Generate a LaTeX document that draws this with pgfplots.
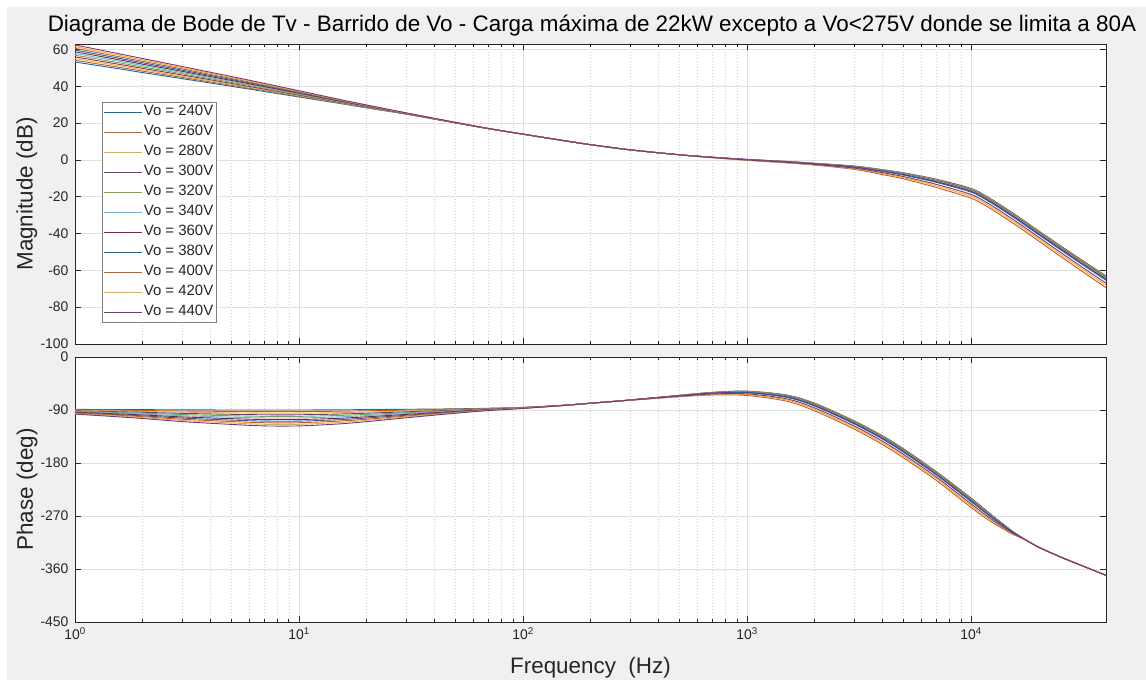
\documentclass[border=0pt]{standalone}
\usepackage{fontspec}
\setmainfont{Liberation Sans}
\usepackage{pgfplots}
\usepackage{pgfplotstable}
\pgfplotsset{compat=1.18}

\definecolor{figbg}{rgb}{0.941,0.941,0.941}
\definecolor{axcol}{rgb}{0.149,0.149,0.149}
\definecolor{legframe}{rgb}{0.5,0.5,0.5}
\definecolor{pure}{rgb}{1,1,1}
\definecolor{majgrid}{rgb}{0.88,0.88,0.88}
\definecolor{mingrid}{rgb}{0.8,0.8,0.8}
\definecolor{c1}{rgb}{0,0.447,0.741}
\definecolor{c2}{rgb}{0.850,0.325,0.098}
\definecolor{c3}{rgb}{0.929,0.694,0.125}
\definecolor{c4}{rgb}{0.494,0.184,0.556}
\definecolor{c5}{rgb}{0.466,0.674,0.188}
\definecolor{c6}{rgb}{0.301,0.745,0.933}
\definecolor{c7}{rgb}{0.635,0.078,0.184}

% f: frequency (Hz), m: magnitude (dB), p: phase (deg)
\pgfplotstableread{
f m p
1 53.2 -89
1.5 49.9 -89.2
2 47.5 -89.4
3 44.2 -89.7
5 40.0 -90
7 37.2 -90
10 34.2 -90
15 30.8 -89.7
20 28.3 -89.3
30 24.9 -88.8
50 20.1 -88
70 17.0 -87
100 14.0 -85.5
150 10.6 -82
200 8.3 -78.5
300 5.5 -73
500 2.8 -65
700 1.5 -60
1000 0.3 -58
1500 -0.8 -64.5
2000 -1.8 -78.3
3000 -3.3 -108.2
4000 -5.2 -133.2
5000 -7.0 -156.0
7000 -10.5 -194.7
10000 -15.5 -239.6
12000 -20.5 -264.2
15000 -28.0 -293.3
17000 -32.5 -307.4
20000 -38.5 -322.9
25000 -46.5 -339.4
30000 -53.0 -351.7
40000 -63.0 -370.7
}\tblA

\pgfplotstableread{
f m p
1 54.13 -89.8
1.5 50.73 -90.4
2 48.26 -90.9
3 44.86 -91.7
5 40.53 -92.45
7 37.64 -92.7
10 34.54 -92.7
15 31.02 -92.1
20 28.46 -91.35
30 24.97 -90.25
50 20.13 -88.75
70 17.01 -87.4
100 14.0 -85.68
150 10.6 -82.06
200 8.3 -78.5
300 5.5 -73.03
500 2.8 -65.13
700 1.49 -60.23
1000 0.28 -58.37
1500 -0.84 -65.03
2000 -1.85 -78.95
3000 -3.39 -108.9
4000 -5.34 -133.95
5000 -7.17 -156.78
7000 -10.73 -195.45
10000 -15.77 -240.4
12000 -20.77 -264.85
15000 -28.28 -293.6
17000 -32.78 -307.45
20000 -38.78 -322.9
25000 -46.79 -339.4
30000 -53.30 -351.7
40000 -63.32 -370.7
}\tblB

\pgfplotstableread{
f m p
1 55.06 -90.6
1.5 51.56 -91.6
2 49.02 -92.4
3 45.52 -93.7
5 41.06 -94.9
7 38.08 -95.4
10 34.88 -95.4
15 31.24 -94.5
20 28.62 -93.4
30 25.04 -91.7
50 20.16 -89.5
70 17.02 -87.8
100 14.0 -85.86
150 10.6 -82.12
200 8.3 -78.5
300 5.5 -73.05
500 2.8 -65.25
700 1.47 -60.45
1000 0.25 -58.74
1500 -0.88 -65.55
2000 -1.90 -79.6
3000 -3.48 -109.6
4000 -5.47 -134.7
5000 -7.33 -157.55
7000 -10.95 -196.2
10000 -16.03 -241.2
12000 -21.04 -265.5
15000 -28.55 -293.9
17000 -33.05 -307.5
20000 -39.05 -322.9
25000 -47.08 -339.4
30000 -53.60 -351.7
40000 -63.64 -370.7
}\tblC

\pgfplotstableread{
f m p
1 55.99 -91.4
1.5 52.39 -92.8
2 49.78 -93.9
3 46.18 -95.7
5 41.59 -97.35
7 38.52 -98.1
10 35.22 -98.1
15 31.46 -96.9
20 28.78 -95.45
30 25.11 -93.15
50 20.19 -90.25
70 17.03 -88.2
100 14.0 -86.04
150 10.6 -82.18
200 8.3 -78.5
300 5.5 -73.08
500 2.8 -65.38
700 1.46 -60.68
1000 0.23 -59.11
1500 -0.92 -66.08
2000 -1.95 -80.25
3000 -3.57 -110.3
4000 -5.61 -135.45
5000 -7.50 -158.33
7000 -11.18 -196.95
10000 -16.30 -242.0
12000 -21.31 -266.15
15000 -28.83 -294.2
17000 -33.33 -307.55
20000 -39.33 -322.9
25000 -47.37 -339.4
30000 -53.90 -351.7
40000 -63.96 -370.7
}\tblD

\pgfplotstableread{
f m p
1 56.92 -92.2
1.5 53.22 -94.0
2 50.54 -95.4
3 46.84 -97.7
5 42.12 -99.8
7 38.96 -100.8
10 35.56 -100.8
15 31.68 -99.3
20 28.94 -97.5
30 25.18 -94.6
50 20.22 -91.0
70 17.04 -88.6
100 14.0 -86.22
150 10.6 -82.24
200 8.3 -78.5
300 5.5 -73.1
500 2.8 -65.5
700 1.44 -60.9
1000 0.20 -59.48
1500 -0.96 -66.6
2000 -2.00 -80.9
3000 -3.66 -111.0
4000 -5.74 -136.2
5000 -7.66 -159.1
7000 -11.40 -197.7
10000 -16.56 -242.8
12000 -21.58 -266.8
15000 -29.10 -294.5
17000 -33.60 -307.6
20000 -39.60 -322.9
25000 -47.66 -339.4
30000 -54.20 -351.7
40000 -64.28 -370.7
}\tblE

\pgfplotstableread{
f m p
1 57.85 -93.0
1.5 54.05 -95.2
2 51.30 -96.9
3 47.50 -99.7
5 42.65 -102.25
7 39.40 -103.5
10 35.90 -103.5
15 31.90 -101.7
20 29.10 -99.55
30 25.25 -96.05
50 20.25 -91.75
70 17.05 -89.0
100 14.0 -86.4
150 10.6 -82.3
200 8.3 -78.5
300 5.5 -73.13
500 2.8 -65.63
700 1.43 -61.13
1000 0.18 -59.85
1500 -1.00 -67.13
2000 -2.05 -81.55
3000 -3.75 -111.7
4000 -5.88 -136.95
5000 -7.83 -159.88
7000 -11.63 -198.45
10000 -16.83 -243.6
12000 -21.85 -267.45
15000 -29.38 -294.8
17000 -33.88 -307.65
20000 -39.88 -322.9
25000 -47.95 -339.4
30000 -54.50 -351.7
40000 -64.60 -370.7
}\tblF

\pgfplotstableread{
f m p
1 58.78 -93.8
1.5 54.88 -96.4
2 52.06 -98.4
3 48.16 -101.7
5 43.18 -104.7
7 39.84 -106.2
10 36.24 -106.2
15 32.12 -104.1
20 29.26 -101.6
30 25.32 -97.5
50 20.28 -92.5
70 17.06 -89.4
100 14.0 -86.58
150 10.6 -82.36
200 8.3 -78.5
300 5.5 -73.15
500 2.8 -65.75
700 1.41 -61.35
1000 0.15 -60.22
1500 -1.04 -67.65
2000 -2.10 -82.2
3000 -3.84 -112.4
4000 -6.01 -137.7
5000 -7.99 -160.65
7000 -11.85 -199.2
10000 -17.09 -244.4
12000 -22.12 -268.1
15000 -29.65 -295.1
17000 -34.15 -307.7
20000 -40.15 -322.9
25000 -48.24 -339.4
30000 -54.80 -351.7
40000 -64.92 -370.7
}\tblG

\pgfplotstableread{
f m p
1 59.71 -94.6
1.5 55.71 -97.6
2 52.82 -99.9
3 48.82 -103.7
5 43.71 -107.15
7 40.28 -108.9
10 36.58 -108.9
15 32.34 -106.5
20 29.42 -103.65
30 25.39 -98.95
50 20.31 -93.25
70 17.07 -89.8
100 14.0 -86.76
150 10.6 -82.42
200 8.3 -78.5
300 5.5 -73.19
500 2.8 -65.95
700 1.39 -61.71
1000 0.11 -60.81
1500 -1.10 -68.49
2000 -2.18 -83.24
3000 -3.98 -113.52
4000 -6.23 -138.9
5000 -8.25 -161.89
7000 -12.21 -200.4
10000 -17.51 -245.68
12000 -22.55 -269.14
15000 -30.09 -295.58
17000 -34.59 -307.78
20000 -40.59 -322.9
25000 -48.70 -339.4
30000 -55.28 -351.7
40000 -65.43 -370.7
}\tblH

\pgfplotstableread{
f m p
1 60.64 -95.4
1.5 56.54 -98.8
2 53.58 -101.4
3 49.48 -105.7
5 44.24 -109.6
7 40.72 -111.6
10 36.92 -111.6
15 32.56 -108.9
20 29.58 -105.7
30 25.46 -100.4
50 20.34 -94.0
70 17.08 -90.2
100 14.0 -86.94
150 10.6 -82.48
200 8.3 -78.5
300 5.5 -73.5
500 2.8 -67.5
700 1.2 -64.5
1000 -0.2 -65.4
1500 -1.6 -75.0
2000 -2.8 -91.3
3000 -5.1 -122.2
4000 -7.9 -148.2
5000 -10.3 -171.5
7000 -15.0 -209.7
10000 -20.8 -255.6
12000 -25.9 -277.2
15000 -33.5 -299.3
17000 -38.0 -308.4
20000 -44.0 -322.9
25000 -52.3 -339.4
30000 -59.0 -351.7
40000 -69.4 -370.7
}\tblI

\pgfplotstableread{
f m p
1 61.57 -96.2
1.5 57.37 -100.0
2 54.34 -102.9
3 50.14 -107.7
5 44.77 -112.05
7 41.16 -114.3
10 37.26 -114.3
15 32.78 -111.3
20 29.74 -107.75
30 25.53 -101.85
50 20.37 -94.75
70 17.09 -90.6
100 14.0 -87.12
150 10.6 -82.54
200 8.3 -78.5
300 5.5 -73.4
500 2.8 -67.0
700 1.26 -63.6
1000 -0.10 -63.92
1500 -1.44 -72.9
2000 -2.60 -88.7
3000 -4.74 -119.4
4000 -7.36 -145.2
5000 -9.64 -168.4
7000 -14.10 -206.7
10000 -19.74 -252.4
12000 -24.82 -274.6
15000 -32.40 -298.1
17000 -36.90 -308.2
20000 -42.90 -322.9
25000 -51.14 -339.4
30000 -57.80 -351.7
40000 -68.12 -370.7
}\tblJ

\pgfplotstableread{
f m p
1 62.5 -97.0
1.5 58.2 -101.2
2 55.1 -104.4
3 50.8 -109.7
5 45.3 -114.5
7 41.6 -117.0
10 37.6 -117.0
15 33.0 -113.7
20 29.9 -109.8
30 25.6 -103.3
50 20.4 -95.5
70 17.1 -91.0
100 14.0 -87.3
150 10.6 -82.6
200 8.3 -78.5
300 5.5 -73.31
500 2.8 -66.55
700 1.31 -62.79
1000 -0.01 -62.59
1500 -1.30 -71.01
2000 -2.42 -86.36
3000 -4.42 -116.88
4000 -6.87 -142.5
5000 -9.05 -165.61
7000 -13.29 -204.0
10000 -18.79 -249.52
12000 -23.85 -272.26
15000 -31.41 -297.02
17000 -35.91 -308.02
20000 -41.91 -322.9
25000 -50.10 -339.4
30000 -56.72 -351.7
40000 -66.97 -370.7
}\tblK

\pgfplotsset{
  every axis legend/.append style={text=axcol},
}

\begin{document}
\begin{tikzpicture}
\useasboundingbox (0,0) rectangle (1146bp,680bp);
\fill[pure] (0,0) rectangle (1146bp,680bp);
\fill[figbg] (7bp,0) rectangle (1146bp,673bp);

% Magnitude
\begin{axis}[
  xmode=log, xmin=1, xmax=40000,
  scale only axis, width=1031bp, height=300bp,
  at={(75bp,336bp)}, anchor=south west,
  axis background/.style={fill=pure},
  axis line style={axcol, line width=0.7bp},
  every tick/.style={axcol, line width=0.6bp},
  tick align=inside, major tick length=6bp, minor tick length=3bp,
  xmajorgrids=true, xminorgrids=true, ymajorgrids=true,
  major grid style={majgrid, line width=0.7bp},
  minor grid style={mingrid, line width=0.5bp, dash pattern=on 1bp off 2bp},
  ticklabel style={font=\fontsize{14}{16}\selectfont, text=axcol},
  yticklabel style={xshift=-3bp},
  xtick={1,10,100,1000,10000},
  ymin=-100, ymax=63,
  ytick={-100,-80,-60,-40,-20,0,20,40,60},
  yticklabels={-100,-80,-60,-40,-20,0,20,40,60},
  xticklabels={},
  ylabel={Magnitude (dB)},
  ylabel style={at={(axis description cs:-0.0466,0.5)}, anchor=center,
    font=\fontsize{22.5}{26}\selectfont, text=axcol},
  legend style={at={(0.0259,0.8077)}, anchor=north west,
    draw=legframe, line width=0.6bp, fill=pure,
    font=\fontsize{15}{17}\selectfont,
    inner xsep=2bp, inner ysep=2bp, row sep=4bp,
    nodes={inner sep=1bp, text height=11bp, text depth=3bp},
    cells={anchor=west}},
  legend image code/.code={\draw[#1, line width=0.9bp] (0bp,0bp) -- (38bp,0bp);},
]
\addplot[draw=c1, line width=0.9bp, smooth] table[x=f, y=m] {\tblA};
\addplot[draw=c2, line width=0.9bp, smooth] table[x=f, y=m] {\tblB};
\addplot[draw=c3, line width=0.9bp, smooth] table[x=f, y=m] {\tblC};
\addplot[draw=c4, line width=0.9bp, smooth] table[x=f, y=m] {\tblD};
\addplot[draw=c5, line width=0.9bp, smooth] table[x=f, y=m] {\tblE};
\addplot[draw=c6, line width=0.9bp, smooth] table[x=f, y=m] {\tblF};
\addplot[draw=c7, line width=0.9bp, smooth] table[x=f, y=m] {\tblG};
\addplot[draw=c1, line width=0.9bp, smooth] table[x=f, y=m] {\tblH};
\addplot[draw=c2, line width=0.9bp, smooth] table[x=f, y=m] {\tblI};
\addplot[draw=c3, line width=0.9bp, smooth] table[x=f, y=m] {\tblJ};
\addplot[draw=c4, line width=0.9bp, smooth] table[x=f, y=m] {\tblK};
\legend{Vo = 240V, Vo = 260V, Vo = 280V, Vo = 300V, Vo = 320V, Vo = 340V,
        Vo = 360V, Vo = 380V, Vo = 400V, Vo = 420V, Vo = 440V}
\end{axis}

% Phase
\begin{axis}[
  xmode=log, xmin=1, xmax=40000,
  scale only axis, width=1031bp, height=265bp,
  at={(75bp,58bp)}, anchor=south west,
  axis background/.style={fill=pure},
  axis line style={axcol, line width=0.7bp},
  every tick/.style={axcol, line width=0.6bp},
  tick align=inside, major tick length=6bp, minor tick length=3bp,
  xmajorgrids=true, xminorgrids=true, ymajorgrids=true,
  major grid style={majgrid, line width=0.7bp},
  minor grid style={mingrid, line width=0.5bp, dash pattern=on 1bp off 2bp},
  ticklabel style={font=\fontsize{14}{16}\selectfont, text=axcol},
  yticklabel style={xshift=-3bp},
  xticklabel style={yshift=-2bp},
  xtick={1,10,100,1000,10000},
  ymin=-450, ymax=0,
  ytick={-450,-360,-270,-180,-90,0},
  yticklabels={-450,-360,-270,-180,-90,0},
  xticklabels={10\textsuperscript{0},10\textsuperscript{1},10\textsuperscript{2},10\textsuperscript{3},10\textsuperscript{4}},
  ylabel={Phase (deg)},
  ylabel style={at={(axis description cs:-0.0466,0.5)}, anchor=center,
    font=\fontsize{22.5}{26}\selectfont, text=axcol},
  xlabel={Frequency\ \ (Hz)},
  xlabel style={at={(axis description cs:0.5,-0.1736)}, anchor=center,
    font=\fontsize{22.5}{26}\selectfont, text=axcol},
]
\addplot[draw=c1, line width=0.9bp, smooth] table[x=f, y=p] {\tblA};
\addplot[draw=c2, line width=0.9bp, smooth] table[x=f, y=p] {\tblB};
\addplot[draw=c3, line width=0.9bp, smooth] table[x=f, y=p] {\tblC};
\addplot[draw=c4, line width=0.9bp, smooth] table[x=f, y=p] {\tblD};
\addplot[draw=c5, line width=0.9bp, smooth] table[x=f, y=p] {\tblE};
\addplot[draw=c6, line width=0.9bp, smooth] table[x=f, y=p] {\tblF};
\addplot[draw=c7, line width=0.9bp, smooth] table[x=f, y=p] {\tblG};
\addplot[draw=c1, line width=0.9bp, smooth] table[x=f, y=p] {\tblH};
\addplot[draw=c2, line width=0.9bp, smooth] table[x=f, y=p] {\tblI};
\addplot[draw=c3, line width=0.9bp, smooth] table[x=f, y=p] {\tblJ};
\addplot[draw=c4, line width=0.9bp, smooth] table[x=f, y=p] {\tblK};
\end{axis}

\node[anchor=base, font=\fontsize{22.5}{26}\selectfont, text=black]
  at (592bp,648bp) {Diagrama de Bode de Tv - Barrido de Vo - Carga máxima de 22kW excepto a Vo<275V donde se limita a 80A};
\end{tikzpicture}
\end{document}
